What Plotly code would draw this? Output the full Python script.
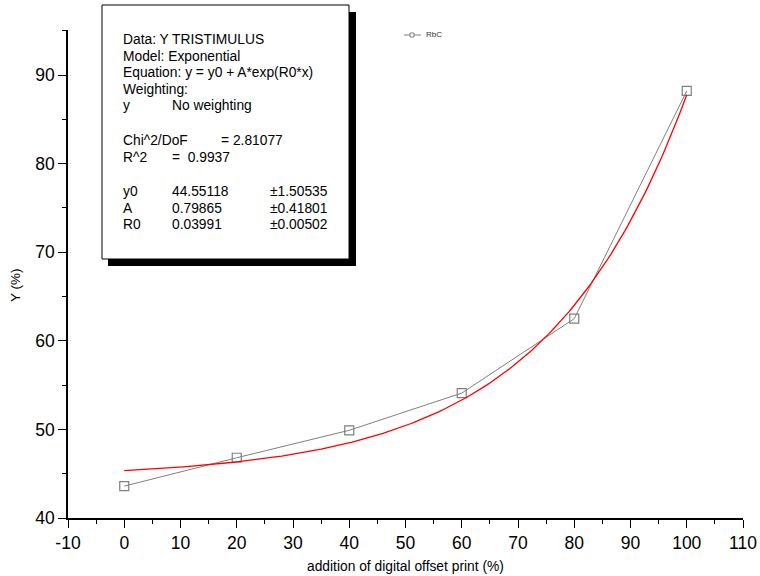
import numpy as np
import plotly.graph_objects as go

# ---- data ----
x_pct = [0, 20, 40, 60, 80, 100]
y_rbc = [43.6, 46.8, 49.9, 54.1, 62.5, 88.2]

# exponential fit parameters (as printed in the chart box)
fit_y0 = 44.55118
fit_A = 0.79865
fit_R0 = 0.03991

x_ticks = [-10, 0, 10, 20, 30, 40, 50, 60, 70, 80, 90, 100, 110]
x_tick_text = ["-10", "0", "10", "20", "30", "40", "50", "60", "70", "80", "90", "100", "110"]
y_ticks = [40, 50, 60, 70, 80, 90]

box_col1 = ["Data: Y TRISTIMULUS", "Model: Exponential", "Equation: y = y0 + A*exp(R0*x)",
            "Weighting:", "y", "Chi^2/DoF", "R^2", "y0", "A", "R0"]
box_col2 = ["No weighting", "=  0.9937", "44.55118", "0.79865", "0.03991"]
box_chi = "= 2.81077"
box_col3 = ["±1.50535", "±0.41801", "±0.00502"]

# ---- layout geometry ----
W, H = 760, 576
ML, MR, MT, MB = 68, 17, 30, 58
PW, PH = W - ML - MR, H - MT - MB


def px(xp):
    return (xp - ML) / PW


def py(yp):
    return (H - MB - yp) / PH


fx = np.linspace(0, 100, 201)
fy = fit_y0 + fit_A * np.exp(fit_R0 * fx)

fig = go.Figure()
fig.add_trace(go.Scatter(
    x=x_pct, y=y_rbc, mode="lines+markers", name="RbC",
    line=dict(color="#7f7f7f", width=1),
    marker=dict(symbol="square-open", size=9, color="#7f7f7f", line=dict(width=1.2)),
    showlegend=False, cliponaxis=False))
fig.add_trace(go.Scatter(
    x=fx, y=fy, mode="lines", line=dict(color="#ff0000", width=1.3),
    showlegend=False))

font = "Arial, Liberation Sans, sans-serif"

shapes = [
    dict(type="rect", xref="paper", yref="paper", x0=px(108), x1=px(356), y0=py(12), y1=py(266),
         fillcolor="black", line=dict(width=0), layer="above"),
    dict(type="rect", xref="paper", yref="paper", x0=px(102), x1=px(349), y0=py(5), y1=py(259),
         fillcolor="white", line=dict(color="black", width=1), layer="above"),
    dict(type="line", xref="paper", yref="paper", x0=px(404), x1=px(421), y0=py(35), y1=py(35),
         line=dict(color="#7f7f7f", width=1), layer="above"),
    dict(type="rect", xref="paper", yref="paper", x0=px(410), x1=px(414), y0=py(33), y1=py(37),
         fillcolor="white", line=dict(color="#7f7f7f", width=1), layer="above"),
]

annotations = []
col1_y = [39, 56, 72, 89, 106, 141, 157, 191, 208, 224]
for t, yy in zip(box_col1, col1_y):
    annotations.append(dict(text=t, x=px(121), y=py(yy)))
col2_y = [106, 157, 191, 208, 224]
for t, yy in zip(box_col2, col2_y):
    annotations.append(dict(text=t, x=px(170), y=py(yy)))
annotations.append(dict(text=box_chi, x=px(219), y=py(141)))
for t, yy in zip(box_col3, [191, 208, 224]):
    annotations.append(dict(text=t, x=px(268), y=py(yy)))
for a in annotations:
    a.update(xref="paper", yref="paper", xanchor="left", yanchor="middle", showarrow=False,
             font=dict(family=font, size=13.8, color="black"))
annotations.append(dict(text="RbC", x=px(424), y=py(35), xref="paper", yref="paper",
                        xanchor="left", yanchor="middle", showarrow=False,
                        font=dict(family=font, size=8, color="#333")))
# axis titles
annotations.append(dict(text="addition of digital offset print (%)", x=px(405), y=py(566),
                        xref="paper", yref="paper", xanchor="center", yanchor="middle",
                        showarrow=False, font=dict(family=font, size=13.8, color="black")))
annotations.append(dict(text="Y (%)", x=px(15), y=py(285), textangle=-90,
                        xref="paper", yref="paper", xanchor="center", yanchor="middle",
                        showarrow=False, font=dict(family=font, size=13.5, color="black")))

fig.update_layout(
    width=W, height=H,
    margin=dict(l=ML, r=MR, t=MT, b=MB),
    paper_bgcolor="white", plot_bgcolor="white",
    font=dict(family=font, color="black"),
    shapes=shapes, annotations=annotations,
    xaxis=dict(range=[-10, 110], tickvals=x_ticks, ticktext=x_tick_text, automargin=False,
               showgrid=False, zeroline=False, showline=True, linecolor="black", linewidth=1.5,
               ticks="outside", ticklen=8, tickwidth=1, tickcolor="black",
               tickfont=dict(size=17.5, family=font),
               minor=dict(dtick=5, tick0=0, ticks="outside", ticklen=4, tickwidth=1, tickcolor="black")),
    yaxis=dict(range=[40, 95.08], tickvals=y_ticks, automargin=False,
               showgrid=False, zeroline=False, showline=True, linecolor="black", linewidth=1.5,
               ticks="outside", ticklen=8, tickwidth=1, tickcolor="black",
               tickfont=dict(size=17.5, family=font),
               minor=dict(dtick=5, tick0=0, ticks="outside", ticklen=4, tickwidth=1, tickcolor="black")),
)

fig.write_html("out.html", config={"displayModeBar": False},
               post_script="document.body.style.margin='0';document.body.style.overflow='hidden';")
